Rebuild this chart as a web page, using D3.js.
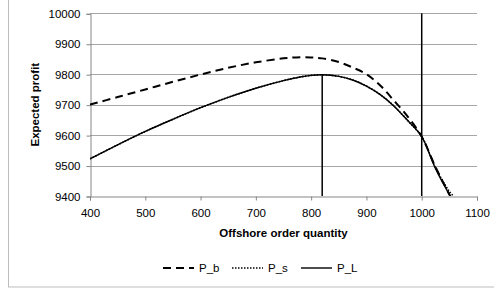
<!DOCTYPE html>
<html>
<head>
<meta charset="utf-8" />
<script src="https://cdn.jsdelivr.net/npm/d3@7"></script>
<style>
  body { margin: 0; background: #fff; }
  text { font-family: "Liberation Sans", Arial, sans-serif; fill: #000; }
</style>
</head>
<body>
<svg id="chart" width="494" height="289"></svg>
<script>
// order quantities sampled along the curves
var quantities = [400, 450, 500, 550, 600, 650, 700, 750, 780, 800, 820, 850, 875, 900, 925, 950, 975, 1000, 1025, 1050, 1060];
var pB = [9700, 9725, 9750, 9775, 9799, 9821, 9839, 9852, 9856, 9855, 9852, 9840, 9822, 9800, 9763, 9713, 9660, 9595, 9495, 9405, 9370];
var pS = [9522, 9568, 9612, 9652, 9690, 9724, 9754, 9779, 9791, 9796, 9798, 9793, 9781, 9761, 9733, 9695, 9647, 9595, 9493, 9415, 9395];
var pL = [9522, 9568, 9612, 9652, 9690, 9724, 9754, 9779, 9791, 9796, 9798, 9793, 9781, 9761, 9733, 9695, 9647, 9595, 9490, 9405, 9375];
var seriesNames = ["P_b", "P_s", "P_L"];
var xTicks = [400, 500, 600, 700, 800, 900, 1000, 1100];
var yTicks = [9400, 9500, 9600, 9700, 9800, 9900, 10000];
// vertical marker lines: x position and top value
var markerX = [820, 1000];
var markerTop = [9798, 10000];

var svg = d3.select("#chart");
var plotLeft = 90, plotRight = 477, plotTop = 13.3, plotBottom = 196;

var x = d3.scaleLinear().domain([400, 1100]).range([plotLeft, plotRight]);
var y = d3.scaleLinear().domain([9400, 10000]).range([plotBottom, plotTop]);

// outer chart border (top/right run off the picture)
svg.append("rect")
  .attr("x", 8.5).attr("y", -5).attr("width", 500).attr("height", 292)
  .attr("fill", "none").attr("stroke", "#bdbdbd");

// horizontal gridlines
svg.append("g").selectAll("line")
  .data(yTicks.slice(1))
  .enter().append("line")
  .attr("x1", plotLeft).attr("x2", plotRight)
  .attr("y1", function(d) { return Math.round(y(d)) + 0.5; })
  .attr("y2", function(d) { return Math.round(y(d)) + 0.5; })
  .attr("stroke", "#a6a6a6");

// axes
var yAxis = svg.append("g")
  .attr("transform", "translate(" + (plotLeft + 0.5) + ",0.5)")
  .call(d3.axisLeft(y).tickValues(yTicks).tickSize(4).tickPadding(6).tickFormat(d3.format("d")));
var xAxis = svg.append("g")
  .attr("transform", "translate(0," + (Math.round(plotBottom) + 0.5) + ")")
  .call(d3.axisBottom(x).tickValues(xTicks).tickSize(4).tickPadding(8).tickFormat(d3.format("d")));
[xAxis, yAxis].forEach(function(a) {
  a.select(".domain").attr("stroke", "#868686");
  a.selectAll(".tick line").attr("stroke", "#868686");
  a.selectAll("text").style("font-family", "Liberation Sans, Arial, sans-serif").style("font-size", "11.5px").attr("fill", "#000");
});

// clip region for curves
svg.append("clipPath").attr("id", "plot")
  .append("rect").attr("x", plotLeft).attr("y", plotTop).attr("width", plotRight - plotLeft).attr("height", plotBottom - plotTop);

var line = d3.line()
  .x(function(d) { return x(d[0]); })
  .y(function(d) { return y(d[1]); })
  .curve(d3.curveCatmullRom.alpha(0.5));

var series = [pB, pS, pL];
var dashes = ["8,5", "1.5,1.5", null];
var widths = [2, 1.6, 1.4];

var g = svg.append("g").attr("clip-path", "url(#plot)");
series.forEach(function(vals, i) {
  g.append("path")
    .datum(quantities.map(function(q, j) { return [q, vals[j]]; }))
    .attr("d", line)
    .attr("fill", "none")
    .attr("stroke", "#000")
    .attr("stroke-width", widths[i])
    .attr("stroke-dasharray", dashes[i]);
});

// vertical markers
svg.append("g").selectAll("line")
  .data(markerX)
  .enter().append("line")
  .attr("x1", function(d) { return x(d); })
  .attr("x2", function(d) { return x(d); })
  .attr("y1", function(d, i) { return y(markerTop[i]); })
  .attr("y2", y(9400))
  .attr("stroke", "#000")
  .attr("stroke-width", 1.5);

// axis titles
svg.append("text")
  .attr("x", (plotLeft + plotRight) / 2).attr("y", 237)
  .attr("text-anchor", "middle")
  .style("font-size", "11.5px").style("font-weight", "bold")
  .text("Offshore order quantity");
svg.append("text")
  .attr("transform", "translate(39," + ((plotTop + plotBottom) / 2) + ") rotate(-90)")
  .attr("text-anchor", "middle")
  .style("font-size", "11.5px").style("font-weight", "bold")
  .text("Expected profit");

// legend
var legendX = [163, 232, 301];
var leg = svg.append("g").selectAll("g")
  .data(seriesNames)
  .enter().append("g")
  .attr("transform", function(d, i) { return "translate(" + legendX[i] + ",268)"; });
leg.append("line")
  .attr("x1", 0).attr("x2", 31)
  .attr("stroke", "#000")
  .attr("stroke-width", function(d, i) { return widths[i]; })
  .attr("stroke-dasharray", function(d, i) { return dashes[i]; });
leg.append("text")
  .attr("x", 36).attr("y", 4)
  .style("font-size", "11.5px")
  .text(function(d) { return d; });
</script>
</body>
</html>
